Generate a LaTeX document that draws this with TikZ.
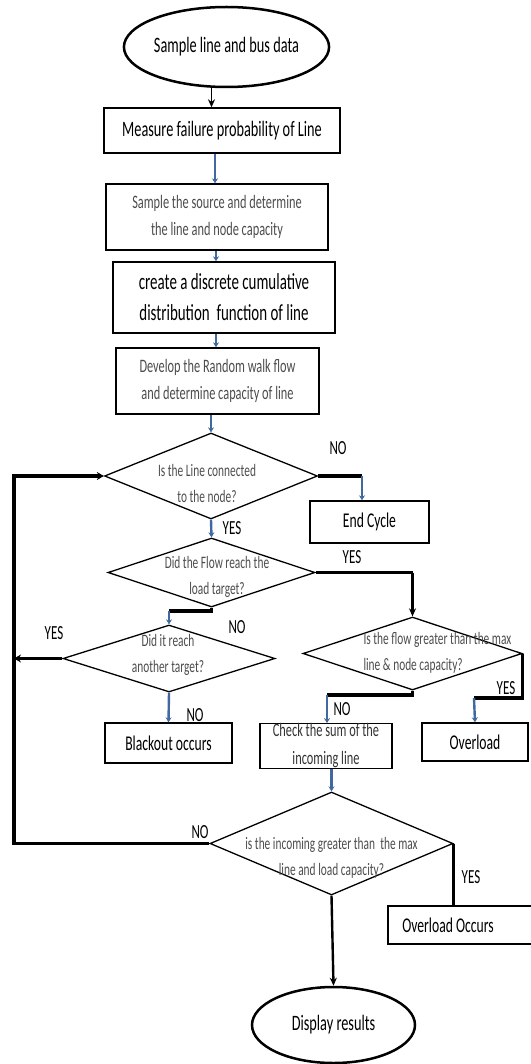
\documentclass[tikz,border=0pt]{standalone}
\usepackage{fontspec}
\setmainfont{Carlito}[FakeStretch=0.65]
\usetikzlibrary{shapes.geometric,arrows.meta}
\definecolor{lineblue}{RGB}{65,105,160}

\begin{document}
\begin{tikzpicture}[x=1pt, y=-1pt,
  term/.style={draw, ellipse, line width=2.5pt, inner sep=0pt, font=\fontsize{22}{26}\selectfont},
  proc/.style={draw, rectangle, line width=1.4pt, inner sep=0pt, align=center},
  decide/.style={draw, diamond, line width=1.3pt, inner sep=0pt},
  qtext/.style={align=center, text=black!70, font=\fontsize{17.5}{26}\selectfont},
  answer/.style={font=\fontsize{20}{24}\selectfont},
  flowarrow/.style={draw=lineblue, line width=2.4pt, -{Stealth[length=5pt,width=6pt]}},
  thickline/.style={line width=3.4pt},
  downarrow/.style={line width=2.4pt, -{Stealth[length=8pt,width=7pt]}}]
\useasboundingbox (0,0) rectangle (530,1064);

% main column
\node[term, minimum width=173pt, minimum height=80pt] (start) at (226.5,47) {Sample line and bus data};
\node[proc, minimum width=236pt, minimum height=45pt, font=\fontsize{22}{26}\selectfont] (measure) at (222,130.5) {Measure failure probability of Line};
\node[proc, minimum width=222pt, minimum height=66pt, text=black!70, font=\fontsize{19}{27}\selectfont] (sample) at (217,217) {Sample the source and determine\\the line and node capacity};
\node[proc, minimum width=222pt, minimum height=71pt, font=\fontsize{23}{31}\selectfont] (cdf) at (224,297.5) {create a discrete cumulative\\distribution\ \ function of line};
\node[proc, minimum width=203pt, minimum height=66pt, text=black!70, font=\fontsize{19}{27}\selectfont] (walk) at (217.5,381) {Develop the Random walk flow\\and determine capacity of line};

% decisions
\node[decide, minimum width=213pt, minimum height=86pt] (connected) at (211,476) {};
\node[qtext] (connectedq) at (207,483.5) {Is the Line connected\\to the node?};
\node[proc, minimum width=119pt, minimum height=42pt, font=\fontsize{21}{25}\selectfont] (endcycle) at (369.5,522) {End Cycle};
\node[decide, minimum width=207pt, minimum height=69pt] (flow) at (211.5,572.5) {};
\node[qtext] (flowq) at (217,576.5) {Did the Flow reach the\\load target?};
\node[decide, minimum width=212pt, minimum height=67pt] (target) at (169,658.5) {};
\node[qtext] (targetq) at (168,654.5) {Did it reach\\another target?};
\node[decide, minimum width=219pt, minimum height=73pt] (maxcap) at (412.5,653.5) {};
\node[qtext, align=left, anchor=west] (maxcapq) at (360,652.5) {Is the flow greater than the max\\line \& node capacity?};

% results
\node[proc, minimum width=127pt, minimum height=40pt, font=\fontsize{21}{25}\selectfont] (blackout) at (168.5,743) {Blackout occurs};
\node[proc, minimum width=132pt, minimum height=44pt, text=black!80, font=\fontsize{19}{28}\selectfont] (check) at (326,746) {Check the sum of the\\incoming line};
\node[proc, minimum width=106pt, minimum height=38pt, font=\fontsize{21}{25}\selectfont] (overload) at (475,742) {Overload};
\node[decide, minimum width=243pt, minimum height=103pt] (incoming) at (331.5,843.5) {};
\node[qtext] (incomingq) at (331.5,857.5) {is the incoming greater than\ \ the max\\line and load capacity?};
\node[proc, minimum width=146pt, minimum height=38pt, font=\fontsize{21}{25}\selectfont] (occurs) at (461,925) {Overload Occurs\hspace{26pt}};
\node[term, minimum width=163pt, minimum height=76pt] (display) at (333.5,1025) {Display results};

% answers
\node[answer] (noconn) at (338,448) {NO};
\node[answer] (yesconn) at (232,528) {YES};
\node[answer] (yesflow) at (352,557) {YES};
\node[answer] (noflow) at (237,627) {NO};
\node[answer] (yestarget) at (54,633) {YES};
\node[answer] (notarget) at (195,715) {NO};
\node[answer] (nocap) at (342,709) {NO};
\node[answer] (yescap) at (506,688) {YES};
\node[answer] (noinc) at (200,832) {NO};
\node[answer] (yesinc) at (471,877) {YES};

\coordinate (turnconn) at (362,476);
\coordinate (turnflow) at (412.5,572.5);
\coordinate (stepflow) at (169,611);
\coordinate (stepno) at (327,695);
\coordinate (stepyes) at (474,698);
\coordinate (looptop) at (14,476);

% connectors
\draw[downarrow, line width=1.8pt] ([xshift=-15]start.south) -- ([xshift=-15]start.south |- measure.north);
\draw[flowarrow] ([xshift=-7]measure.south) -- ([xshift=-7]measure.south |- sample.north);
\draw[flowarrow] ([xshift=-1]sample.south) -- ([xshift=-1]sample.south |- cdf.north);
\draw[flowarrow] ([xshift=-8]cdf.south) -- ([xshift=-8]cdf.south |- walk.north);
\draw[flowarrow] (connected.north |- walk.south) -- (connected.north);

\draw[thickline] (connected.east) -- (turnconn);
\draw[flowarrow] (turnconn) -- (turnconn |- endcycle.north);
\draw[flowarrow] (connected.south) -- (flow.north);

\draw[thickline] (flow.east) -- (turnflow);
\draw[downarrow] (turnflow) -- (maxcap.north);
\draw[thickline] (flow.south) |- (stepflow);
\draw[flowarrow] (stepflow) -- (target.north);

\draw[thickline, -{Stealth[length=7pt,width=8pt]}] (target.west) -- (target.west -| looptop);
\draw[flowarrow] (target.south) -- (blackout.north);

\draw[thickline] (maxcap.south) |- (stepno);
\draw[flowarrow] (stepno) -- (stepno |- check.north);
\draw[thickline] (maxcap.east) |- (stepyes);
\draw[flowarrow] (stepyes) -- (overload.north);

\draw[flowarrow] (incoming.north |- check.south) -- (incoming.north);
\draw[thickline, -{Stealth[length=7pt,width=8pt]}] (incoming.west) -| (looptop) -- (connected.west);
\draw[thickline] (incoming.east) -- (incoming.east |- occurs.north);
\draw[downarrow] (incoming.south) -- (display.north);
\end{tikzpicture}
\end{document}
